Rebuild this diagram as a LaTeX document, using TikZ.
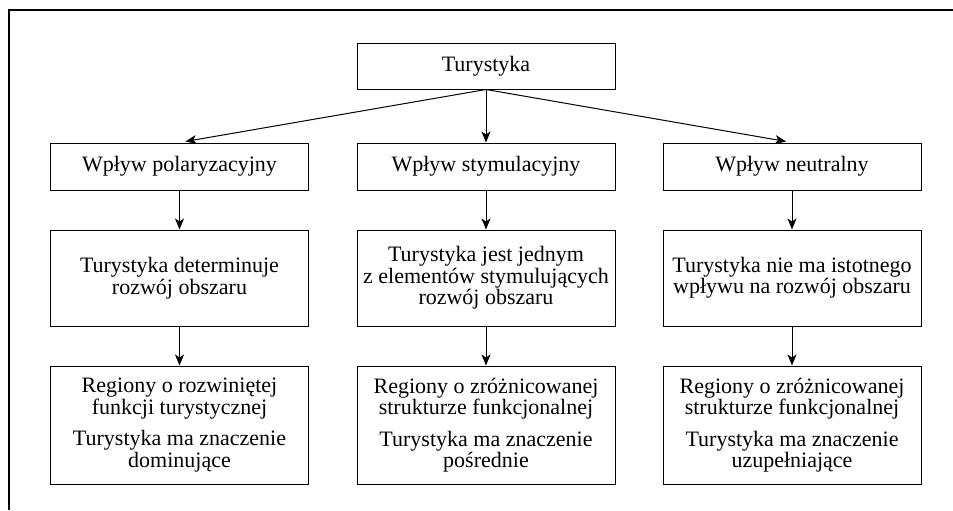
\documentclass[tikz,border=0pt]{standalone}
\usepackage{fontspec}
\setmainfont{Liberation Serif}
\usetikzlibrary{arrows.meta, positioning}
\tikzset{>={Stealth[length=5.5pt, width=4.5pt, inset=1.5pt]}}
\tikzset{box/.style={draw, line width=0.5pt, align=center, inner sep=0pt, minimum width=129pt, font=\fontsize{11}{10.7}\selectfont}}

\begin{document}
\begin{tikzpicture}[x=0.5pt, y=-0.5pt]
    \useasboundingbox (0,0) rectangle (953,510);
    \draw[line width=0.6pt](9, 510)--(9, 10)--(953, 10);
    % top
    \node[box, minimum height=23pt] (tur) at (486, 66) {Turystyka};
    % influence types
    \node[box, minimum height=23.5pt] (pol) at (179.5, 166.5) {Wpływ polaryzacyjny};
    \node[box, minimum height=23.5pt] (sty) at (486, 166.5) {Wpływ stymulacyjny};
    \node[box, minimum height=23.5pt] (neu) at (792, 166.5) {Wpływ neutralny};
    % effects
    \node[box, minimum height=48pt] (det) at (179.5, 278) {Turystyka determinuje\\rozwój obszaru};
    \node[box, minimum height=48pt] (jed) at (486, 278) {Turystyka jest jednym\\z elementów stymulujących\\rozwój obszaru};
    \node[box, minimum height=48pt] (ist) at (792, 278) {Turystyka nie ma istotnego\\wpływu na rozwój obszaru};
    % regions
    \node[box, minimum height=59pt] (dom) at (179.5, 425) {Regiony o rozwiniętej\\funkcji turystycznej\\[5pt]Turystyka ma znaczenie\\dominujące};
    \node[box, minimum height=59pt] (pos) at (486, 425) {Regiony o zróżnicowanej\\strukturze funkcjonalnej\\[5pt]Turystyka ma znaczenie\\pośrednie};
    \node[box, minimum height=59pt] (uzu) at (792, 425) {Regiony o zróżnicowanej\\strukturze funkcjonalnej\\[5pt]Turystyka ma znaczenie\\uzupełniające};
    \draw[->, line width=0.5pt, shorten >=3pt](tur.south)--(pol.north);
    \draw[->, line width=0.5pt](tur.south)--(sty.north);
    \draw[->, line width=0.5pt, shorten >=3pt](tur.south)--(neu.north);
    \draw[->, line width=0.5pt](pol)--(det);
    \draw[->, line width=0.5pt](sty)--(jed);
    \draw[->, line width=0.5pt](neu)--(ist);
    \draw[->, line width=0.5pt](det)--(dom);
    \draw[->, line width=0.5pt](jed)--(pos);
    \draw[->, line width=0.5pt](ist)--(uzu);
\end{tikzpicture}
\end{document}
